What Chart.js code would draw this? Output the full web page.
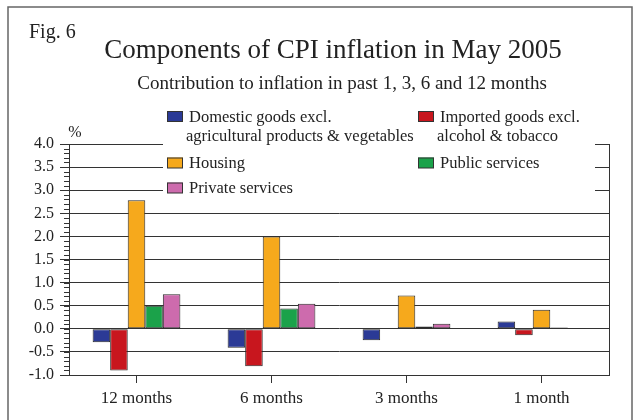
<!DOCTYPE html>
<html>
<head>
<script src="https://cdn.jsdelivr.net/npm/chart.js"></script>
<style>
  body { margin: 0; padding: 0; background: #fff; }
  #wrap { width: 635px; height: 420px; }
</style>
</head>
<body>
<div id="wrap"><canvas id="myChart" width="635" height="420"></canvas></div>
<script>
// data
const periods = ["12 months", "6 months", "3 months", "1 month"];
const domestic = [-0.29, -0.41, -0.25, 0.16];
const imported = [-0.90, -0.81, 0.0, -0.14];
const housing = [2.78, 2.00, 0.72, 0.41];
const publicServices = [0.50, 0.44, 0.05, 0.03];
const privateServices = [0.75, 0.54, 0.11, 0.02];
const yTicks = [-1.0, -0.5, 0.0, 0.5, 1.0, 1.5, 2.0, 2.5, 3.0, 3.5, 4.0];

const SERIF = "'Liberation Serif', 'DejaVu Serif', serif";
const INK = "#222";

const series = [
  { label: ["Domestic goods excl.", "agricultural products & vegetables"], data: domestic, color: "#2b3a96" },
  { label: ["Imported goods excl.", "alcohol & tobacco"], data: imported, color: "#c8161e" },
  { label: ["Housing"], data: housing, color: "#f6a91c" },
  { label: ["Public services"], data: publicServices, color: "#1ba24a" },
  { label: ["Private services"], data: privateServices, color: "#cd6bad" },
];

// titles, legend, frame and minor ticks
const decorations = {
  id: "decorations",
  afterDraw(chart) {
    const ctx = chart.ctx;
    const area = chart.chartArea;
    const y = chart.scales.y;
    ctx.save();

    // outer frame
    ctx.strokeStyle = "#666";
    ctx.lineWidth = 1.5;
    ctx.strokeRect(8, 7, 624, 500);

    // right border of the plot
    ctx.strokeStyle = "#333";
    ctx.lineWidth = 1;
    ctx.beginPath();
    ctx.moveTo(Math.round(area.right) + 0.5, area.top);
    ctx.lineTo(Math.round(area.right) + 0.5, area.bottom);
    ctx.stroke();

    // minor ticks on the y axis
    ctx.beginPath();
    for (let v = -10; v <= 40; v++) {
      const py = Math.round(y.getPixelForValue(v / 10)) + 0.5;
      ctx.moveTo(area.left - 5, py);
      ctx.lineTo(area.left, py);
    }
    ctx.stroke();

    // texts
    ctx.fillStyle = INK;
    ctx.textBaseline = "alphabetic";
    ctx.textAlign = "left";
    ctx.font = "20px " + SERIF;
    ctx.fillText("Fig. 6", 29, 38);
    ctx.textAlign = "center";
    ctx.font = "27px " + SERIF;
    ctx.fillText("Components of CPI inflation in May 2005", 333, 58);
    ctx.font = "19px " + SERIF;
    ctx.fillText("Contribution to inflation in past 1, 3, 6 and 12 months", 342, 89);
    ctx.font = "16px " + SERIF;
    ctx.fillText("%", 75, 137);

    // legend, on white so the gridlines behind it are hidden
    ctx.fillStyle = "#fff";
    ctx.fillRect(163, 106, 432, 90);
    const spots = [
      { x: 167, base: 121.5 },
      { x: 418, base: 121.5 },
      { x: 167, base: 168 },
      { x: 418, base: 168 },
      { x: 167, base: 193 },
    ];
    ctx.textAlign = "left";
    ctx.font = "16.5px " + SERIF;
    series.forEach((s, i) => {
      const p = spots[i];
      ctx.fillStyle = s.color;
      ctx.fillRect(p.x, p.base - 10.5, 16, 10.5);
      ctx.strokeStyle = "#333";
      ctx.lineWidth = 1;
      ctx.strokeRect(p.x + 0.5, p.base - 10, 15, 10);
      ctx.fillStyle = INK;
      ctx.fillText(s.label[0], p.x + 22, p.base);
      if (s.label[1]) ctx.fillText(s.label[1], p.x + 19, p.base + 19);
    });

    ctx.restore();
  },
};

new Chart(document.getElementById("myChart").getContext("2d"), {
  type: "bar",
  data: {
    labels: periods,
    datasets: series.map((s) => ({
      label: s.label.join(" "),
      data: s.data,
      backgroundColor: s.color,
      borderColor: "#2a2a2a",
      borderWidth: 1,
      borderSkipped: false,
      categoryPercentage: 0.65,
      barPercentage: 1.0,
    })),
  },
  options: {
    responsive: false,
    animation: false,
    layout: { padding: { left: 0, top: 144, right: 26, bottom: 0 } },
    plugins: { legend: { display: false }, title: { display: false }, tooltip: { enabled: false } },
    scales: {
      x: {
        afterFit: (scale) => { scale.height = 45; },
        grid: { offset: false, drawOnChartArea: false, tickLength: 8, color: "#333" },
        border: { color: "#333", width: 1 },
        ticks: { color: INK, font: { family: SERIF, size: 17 }, padding: 5 },
      },
      y: {
        min: -1,
        max: 4,
        afterFit: (scale) => { scale.width = 69; },
        afterBuildTicks: (scale) => { scale.ticks = yTicks.map((v) => ({ value: v })); },
        grid: { color: "#333", tickLength: 9, lineWidth: 1 },
        border: { color: "#333", width: 1 },
        ticks: {
          color: INK,
          font: { family: SERIF, size: 16 },
          padding: 6,
          callback: (v) => Number(v).toFixed(1),
        },
      },
    },
  },
  plugins: [decorations],
});
</script>
</body>
</html>
